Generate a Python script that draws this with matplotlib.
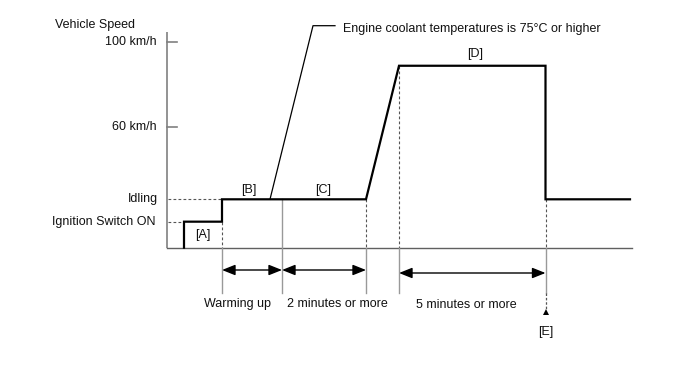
import matplotlib
matplotlib.use("Agg")
import matplotlib.pyplot as plt
from matplotlib.patches import FancyArrowPatch

plt.rcParams['font.family'] = ['Liberation Sans', 'DejaVu Sans']

# ---------------- data (schematic speed profile) ----------------
# times (arbitrary units from the y-axis) and speed (km/h, schematic)
t_ign_on = 17.5      # ignition switch ON
t_idle = 55.5        # idling starts  ([A] -> [B])
t_warm = 115.5       # coolant temp >= 75 C ([B] -> [C])
t_accel = 199.5      # acceleration starts
t_cruise = 232.5     # reaches cruise speed ([D])
t_stop_cruise = 379  # end of [D] / point [E]
t_end = 463.5

v_floor = 3.4
v_ign = 15.6
v_idle = 26.1
v_cruise = 88.8

profile_t = [t_ign_on, t_ign_on, t_idle, t_idle, t_accel, t_cruise,
             t_stop_cruise, t_stop_cruise, t_end]
profile_v = [v_floor, v_ign, v_ign, v_idle, v_idle, v_cruise,
             v_cruise, v_idle, v_idle]

ytick_vals = [100, 60]
ytick_labels = ["100 km/h", "60 km/h"]
level_vals = [v_idle, v_ign]
level_labels = ["Idling", "Ignition Switch ON"]

span_starts = [t_idle, t_warm, t_cruise]
span_ends = [t_warm, t_accel, t_stop_cruise]
span_labels = ["Warming up", "2 minutes or more", "5 minutes or more"]

# ---------------- figure ----------------
W, H = 688, 366
fig = plt.figure(figsize=(W / 100, H / 100), dpi=100)
ax = fig.add_axes([0, 0, 1, 1])
ax.set_axis_off()

X0 = 166.5     # pixel x of the axis
Y0 = 254.9     # pixel y of 0 km/h
K = 2.13       # pixels per km/h
ax.set_xlim(-X0, W - X0)
ax.set_ylim((Y0 - H) / K, Y0 / K)


def P(xp, yp):
    """pixel position -> data position (for text placement)"""
    return xp - X0, (Y0 - yp) / K


def dy(px):
    return px / K


txt_c = '#111111'
gray = '#808080'
fs = 9

# axes
v_top = P(0, 31.7)[1]
ax.plot([0, 0], [v_floor, v_top], color=gray, lw=1.2, solid_capstyle='butt')
ax.plot([0, t_end + 1.5], [v_floor, v_floor], color='#606060', lw=1.0)
for v, lab in zip(ytick_vals, ytick_labels):
    ax.plot([0, 10], [v, v], color=gray, lw=1.2)
    ax.text(P(157, 0)[0], v, lab, ha='right', va='center', fontsize=fs, color=txt_c)

ax.text(*P(55, 25), "Vehicle Speed", ha='left', va='center', fontsize=fs, color=txt_c)

# level labels and dashed helpers
ax.text(P(158, 0)[0], level_vals[0], level_labels[0], ha='right', va='center', fontsize=fs, color=txt_c)
ax.text(P(155, 0)[0], level_vals[1], level_labels[1], ha='right', va='center', fontsize=fs, color=txt_c)
dash = dict(color='#555555', lw=0.8, linestyle=(0, (2.5, 2)))
ax.plot([1.5, t_idle], [v_idle, v_idle], **dash)
ax.plot([1.5, t_ign_on], [v_ign, v_ign], **dash)

# vertical dashed guides above baseline
ax.plot([t_idle, t_idle], [v_ign, v_floor], **dash)
ax.plot([t_accel, t_accel], [v_idle, v_floor], **dash)
ax.plot([t_cruise, t_cruise], [v_cruise, v_floor], **dash)
ax.plot([t_stop_cruise, t_stop_cruise], [v_idle, v_floor], **dash)

# vertical solid guides below baseline
v_guide_bot = P(0, 293)[1]
for t in [t_idle, t_accel, t_cruise, t_stop_cruise]:
    ax.plot([t, t], [v_floor, v_guide_bot], color='#999999', lw=1.0)
ax.plot([t_warm, t_warm], [v_idle, v_guide_bot], color='#999999', lw=1.0)

# [E] dashed extension + small arrow head
v_e_tip = P(0, 310)[1]
ax.plot([t_stop_cruise, t_stop_cruise], [v_guide_bot, v_e_tip], color='#555555',
        lw=0.9, linestyle=(0, (2, 1.5)))
ax.plot([t_stop_cruise], [v_e_tip - dy(2)], marker='^', markersize=4.5,
        color='black', markeredgewidth=0)

# main profile
ax.plot(profile_t, profile_v, color='black', lw=1.6, solid_joinstyle='miter')

# span arrows
arrow_y = [P(0, 270)[1], P(0, 270)[1], P(0, 273)[1]]
label_pos = [P(237, 304), P(337, 304), P(466, 305)]
for t1, t2, lab, ya, (xl, yl) in zip(span_starts, span_ends, span_labels, arrow_y, label_pos):
    a = FancyArrowPatch((t1, ya), (t2, ya), arrowstyle='<|-|>,head_length=5,head_width=2',
                        color='black', lw=1.0, shrinkA=0, shrinkB=0, mutation_scale=1.6)
    ax.add_patch(a)
    ax.text(xl, yl, lab, ha='center', va='center', fontsize=fs, color=txt_c)

# bracket labels
ax.text(*P(203, 235), "[A]", ha='center', va='center', fontsize=fs, color=txt_c)
ax.text(*P(249, 190), "[B]", ha='center', va='center', fontsize=fs, color=txt_c)
ax.text(*P(323, 190), "[C]", ha='center', va='center', fontsize=fs, color=txt_c)
ax.text(*P(475, 54), "[D]", ha='center', va='center', fontsize=fs, color=txt_c)
ax.text(*P(545.5, 332), "[E]", ha='center', va='center', fontsize=fs, color=txt_c)

# leader for coolant temperature note
p1 = P(270, 199.3)
p2 = P(313, 25.7)
p3 = P(335, 25.7)
ax.plot([p1[0], p2[0], p3[0]], [p1[1], p2[1], p3[1]], color='black', lw=0.9)
ax.text(*P(343, 29), "Engine coolant temperatures is 75\u00b0C or higher",
        ha='left', va='center', fontsize=fs, color=txt_c)

fig.savefig("out.png", dpi=100)
